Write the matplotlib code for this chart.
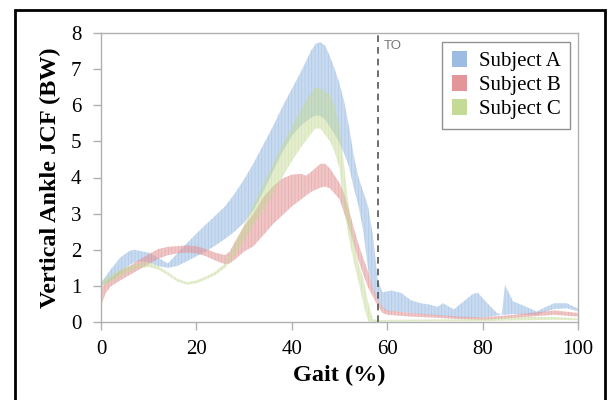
import numpy as np
import matplotlib
matplotlib.use('Agg')
import matplotlib.pyplot as plt
from matplotlib.patches import Patch, Rectangle

plt.rcParams['font.family'] = 'Liberation Serif'
plt.rcParams['hatch.linewidth'] = 0.5

# Subject A (blue) band
a_x = [0, 2, 4, 6, 7, 8, 10, 12, 14, 16, 18, 20, 22, 24, 26, 28, 30, 32, 34, 36, 38, 40, 42, 44, 45, 46, 47, 48, 49, 50, 51, 52, 53, 54, 55, 56, 57, 58, 59, 60, 61, 63, 65, 67, 69, 70.5, 71.7, 73, 74, 76, 78, 79, 81, 83, 84, 84.7, 86.4, 89, 91.3, 93, 95, 97.6, 100]
a_lo = [1.0, 1.15, 1.35, 1.58, 1.65, 1.68, 1.65, 1.55, 1.5, 1.55, 1.68, 1.82, 1.95, 2.12, 2.3, 2.5, 2.75, 3.1, 3.6, 4.15, 4.7, 5.15, 5.45, 5.65, 5.72, 5.7, 5.6, 5.4, 5.2, 4.95, 4.65, 4.3, 3.7, 3.2, 2.5, 1.45, 0.9, 0.6, 0.4, 0.3, 0.3, 0.28, 0.25, 0.22, 0.2, 0.18, 0.17, 0.15, 0.13, 0.12, 0.12, 0.12, 0.14, 0.18, 0.2, 0.2, 0.22, 0.21, 0.2, 0.28, 0.36, 0.38, 0.3]
a_hi = [1.08, 1.45, 1.78, 1.97, 2.0, 1.97, 1.92, 1.78, 1.62, 1.9, 2.18, 2.45, 2.7, 2.95, 3.2, 3.55, 3.95, 4.4, 4.9, 5.4, 5.95, 6.45, 6.95, 7.5, 7.7, 7.75, 7.65, 7.35, 7.0, 6.6, 6.1, 5.4, 4.6, 4.0, 3.6, 3.2, 2.4, 1.2, 0.82, 0.85, 0.87, 0.8, 0.6, 0.52, 0.48, 0.42, 0.52, 0.42, 0.35, 0.57, 0.78, 0.81, 0.52, 0.25, 0.2, 1.02, 0.57, 0.43, 0.29, 0.4, 0.52, 0.52, 0.37]

# Subject B (red) band
b_x = [0, 1, 2, 4, 6, 8, 10, 12, 14, 16, 18, 20, 22, 24, 26, 27, 28, 30, 32, 34, 36, 38, 40, 42, 43, 44, 46, 47, 48, 50, 51, 52, 53, 54, 55, 56, 57, 58, 59, 60, 65, 70, 75, 80, 85, 90, 95, 100]
b_lo = [0.45, 0.8, 0.98, 1.15, 1.3, 1.45, 1.6, 1.75, 1.85, 1.9, 1.92, 1.9, 1.82, 1.7, 1.6, 1.62, 1.72, 1.95, 2.1, 2.4, 2.7, 2.95, 3.2, 3.4, 3.5, 3.6, 3.72, 3.75, 3.7, 3.4, 3.0, 2.6, 2.15, 1.7, 1.3, 0.95, 0.7, 0.45, 0.25, 0.2, 0.15, 0.12, 0.08, 0.06, 0.1, 0.15, 0.2, 0.15]
b_hi = [0.95, 1.1, 1.2, 1.4, 1.55, 1.72, 1.88, 2.02, 2.08, 2.1, 2.12, 2.1, 2.02, 1.92, 1.85, 1.95, 2.2, 2.65, 3.0, 3.45, 3.75, 3.97, 4.08, 4.1, 4.05, 4.15, 4.38, 4.38, 4.25, 3.85, 3.55, 3.1, 2.6, 2.15, 1.75, 1.4, 0.95, 0.6, 0.42, 0.32, 0.25, 0.2, 0.15, 0.13, 0.18, 0.25, 0.32, 0.25]

# Subject C (green) band
c_x = [0, 2, 4, 6, 8, 10, 12, 14, 16, 18, 20, 22, 24, 26, 28, 30, 32, 34, 36, 38, 40, 42, 44, 45, 46, 48, 49, 50, 51, 52, 53, 54, 55, 56, 57, 58, 60, 70, 80, 85, 90, 95, 100]
c_lo = [1.0, 1.1, 1.25, 1.4, 1.5, 1.52, 1.45, 1.3, 1.12, 1.03, 1.07, 1.18, 1.3, 1.5, 1.85, 2.25, 2.7, 3.1, 3.55, 4.0, 4.45, 4.85, 5.2, 5.36, 5.35, 5.0, 4.7, 4.25, 3.1, 2.3, 1.65, 1.1, 0.5, 0.02, 0.0, 0.0, 0.01, 0.02, 0.02, 0.04, 0.05, 0.06, 0.05]
c_hi = [1.12, 1.3, 1.45, 1.55, 1.62, 1.65, 1.55, 1.38, 1.2, 1.1, 1.15, 1.26, 1.4, 1.62, 2.15, 2.7, 3.25, 3.8, 4.35, 4.9, 5.4, 5.9, 6.35, 6.5, 6.45, 6.3, 6.0, 5.4, 4.3, 3.1, 2.3, 1.6, 1.2, 0.55, 0.08, 0.05, 0.06, 0.07, 0.08, 0.12, 0.14, 0.14, 0.1]

names = ['Subject A', 'Subject B', 'Subject C']
colors = ['#9cbce2', '#e29698', '#c4da96']
band_alpha = [0.55, 0.55, 0.45]
to_x = 58

fig = plt.figure(figsize=(6.11, 4.0), dpi=100)
ax = fig.add_axes([0.1653, 0.195, 0.7807, 0.7225])

bands = [(a_x, a_lo, a_hi), (b_x, b_lo, b_hi), (c_x, c_lo, c_hi)]
for (x, lo, hi), col, al in zip(bands, colors, band_alpha):
    ax.fill_between(x, lo, hi, facecolor=col, alpha=al, linewidth=0)
    ax.fill_between(x, lo, hi, facecolor='none', edgecolor=col, alpha=al,
                    hatch='|||||', linewidth=0)

ax.axvline(to_x, color='#555555', linestyle=(0, (4, 3)), linewidth=1.2)
ax.text(to_x + 1.2, 7.8, 'TO', family='Liberation Sans', fontsize=9.5,
        color='#777777', va='top', ha='left')

ax.set_xlim(0, 100)
ax.set_ylim(0, 8)
ax.set_xticks(np.arange(0, 101, 20))
ax.set_yticks(np.arange(0, 9, 1))
for s in ax.spines.values():
    s.set_color('#b0b0b0')
    s.set_linewidth(1.0)
ax.tick_params(axis='both', colors='#b0b0b0', labelcolor='black', labelsize=15,
               length=6, width=1.0)
ax.tick_params(axis='x', pad=7)
ax.tick_params(axis='y', pad=8)

ax.set_xlabel('Gait (%)', fontsize=17.5, fontweight='bold', labelpad=4)
ax.set_ylabel('Vertical Ankle JCF (BW)', fontsize=17.5, fontweight='bold', labelpad=7)

handles = [Patch(facecolor=c, edgecolor='none') for c in colors]
leg = ax.legend(handles, names, loc='upper right', bbox_to_anchor=(0.983, 0.969),
                fontsize=15, frameon=True, fancybox=False, borderpad=0.45,
                labelspacing=0.2, handlelength=0.75, handleheight=0.75,
                handletextpad=0.55, borderaxespad=0)
leg.get_frame().set_edgecolor('#777777')
leg.get_frame().set_linewidth(1.0)

fig.patches.append(Rectangle((15 / 611, -0.02), 590 / 611, 0.995, transform=fig.transFigure,
                             fill=False, edgecolor='black', linewidth=2))

fig.savefig('out.png', dpi=100)
